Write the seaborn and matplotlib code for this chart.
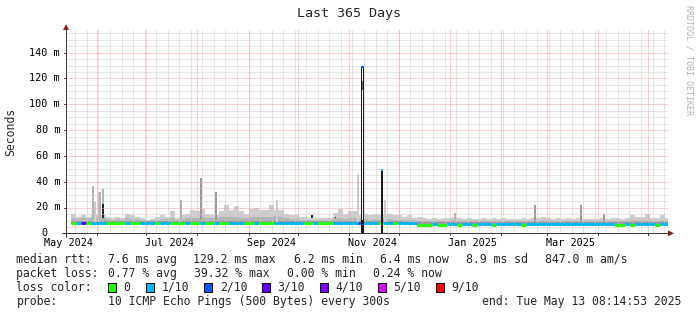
import numpy as np
import pandas as pd
import matplotlib
matplotlib.use("Agg")
import matplotlib.pyplot as plt
import matplotlib.transforms as mtransforms
from matplotlib.patches import Rectangle, Polygon
from matplotlib.lines import Line2D
import seaborn as sns
from datetime import datetime, timedelta

# ------------------------------------------------------------------ data
title = "Last 365 Days"
y_label = "Seconds"
watermark = "RRDTOOL / TOBI OETIKER"
start = datetime(2024, 5, 13, 8, 14, 53)
span_days = 365
bin_days = 3
nan = np.nan

# upper edge of light smoke (ms), one value per 3-day bin
smoke_hi = [nan, 15, 13, 14, 13, 14, 14, 14, 13, 12,
            13, 12, 15, 14, 13, 12, 10, 11, 13, 14,
            13, 17, 12, 14, 15, 18, 17, 19, 15, 14,
            14, 17, 22, 18, 21, 17, 15, 19, 20, 18,
            18, 22, 18, 18, 15, 14, 14, 13, 13, 12,
            12, 12, 12, 12, 16, 19, 15, 17, 17, 14,
            15, 14, 15, 14, 15, 15, 14, 14, 13, 14,
            12, 13, 12, 11, 12, 11, 12, 12, 13, 12,
            11, 12, 11, 11, 12, 11, 12, 11, 12, 11,
            11, 11, 12, 11, 12, 12, 13, 12, 11, 12,
            11, 12, 11, 12, 11, 11, 11, 11, 12, 11,
            12, 12, 11, 12, 14, 13, 13, 15, 12, 12,
            14, 12]
# medium smoke
smoke_mid = [nan, 11.5, 11, 11.5, 11, 11.5, 11.5, 12, 11, 10.5,
             11, 10.5, 11.5, 11, 11, 10.5, 9.8, 10, 10.5, 11,
             11, 12, 10.5, 11, 11.5, 12, 12, 12.5, 11.5, 11.5,
             11.5, 12.5, 13, 12.5, 13, 12, 11.5, 12.5, 13, 12.5,
             12.5, 13, 13.5, 12.5, 11.5, 11, 11, 10.5, 10.5, 10.5,
             10, 10, 10.5, 10.5, 11.5, 12, 11, 11.5, 11.5, 11,
             11, 10.5, 11, 10.5, 11, 11, 10.5, 10.5, 10, 10.5,
             10, 9.8, 9.5, 9.3, 9.6, 9.3, 9.5, 9.6, 10.5, 9.6,
             9.4, 9.6, 9.3, 9.4, 9.6, 9.4, 9.6, 9.4, 9.6, 9.4,
             9.4, 9.4, 9.6, 9.4, 9.8, 9.8, 10, 9.6, 9.4, 9.6,
             9.4, 9.6, 9.4, 9.8, 9.4, 9.4, 9.4, 9.4, 9.8, 9.4,
             9.6, 9.6, 9.4, 9.6, 10.5, 10, 10, 10.5, 9.6, 9.6,
             10, 9.6]
# dark smoke near the median
smoke_dark = [nan, 9.8, 9.6, 9.8, 9.6, 10, 9.8, 10, 9.6, 9.6,
              9.6, 9.6, 9.8, 9.8, 9.6, 9.4, 9.3, 9.4, 9.6, 9.8,
              9.6, 9.8, 9.6, 9.8, 10, 10, 10.2, 10.2, 9.8, 9.8,
              9.8, 10, 10.4, 10.4, 10.6, 10.4, 10, 10.4, 10.6, 10.4,
              10.4, 10.6, 10.6, 10.4, 10, 9.8, 9.8, 9.6, 9.6, 9.4,
              9.4, 9.4, 9.4, 9.4, 9.6, 10, 9.6, 9.8, 9.8, 9.6,
              9.4, 9.4, 9.2, 9.4, 9.4, 9.4, 9.2, 9.2, 9.0, 9.0,
              9.0, 8.8, 8.6, 8.4, 8.8, 8.5, 8.6, 8.8, 9.0, 8.6,
              8.8, 8.8, 8.6, 8.8, 8.8, 8.8, 8.6, 8.8, 8.8, 8.8,
              8.8, 8.8, 8.6, 8.8, 8.8, 8.8, 8.8, 8.8, 8.8, 8.8,
              8.8, 8.8, 8.8, 8.8, 8.8, 8.8, 8.8, 8.8, 8.8, 8.8,
              8.8, 8.6, 8.6, 8.8, 8.6, 8.8, 8.8, 9.0, 8.8, 8.6,
              8.8, 8.8]
# lower edge of the smoke (fastest pings, ms)
smoke_lo = [nan, 7.0, 7.0, 7.0, 7.0, 7.0, 7.0, 7.0, 7.0, 7.0,
            7.0, 7.0, 7.0, 7.0, 7.0, 7.0, 7.0, 7.0, 7.0, 7.0,
            7.0, 7.0, 7.0, 7.0, 7.0, 7.0, 7.0, 7.0, 7.0, 7.0,
            7.0, 7.0, 7.0, 7.0, 7.0, 7.0, 7.0, 7.0, 7.0, 7.0,
            7.0, 7.0, 7.0, 7.0, 7.0, 7.0, 7.0, 7.0, 7.0, 7.0,
            7.0, 7.0, 7.0, 7.0, 7.0, 7.0, 7.0, 7.0, 7.0, 7.0,
            7.0, 7.0, 7.0, 6.8, 7.0, 7.0, 6.8, 7.0, 7.0, 7.0,
            6.8, 5.5, 5.5, 5.5, 6.6, 5.5, 5.5, 6.6, 6.6, 5.6,
            6.6, 6.6, 5.6, 6.6, 6.6, 6.6, 5.6, 6.6, 6.6, 6.6,
            6.6, 6.6, 5.5, 6.6, 6.6, 6.5, 6.5, 6.5, 6.5, 6.5,
            6.5, 6.5, 6.5, 6.5, 6.5, 6.5, 6.5, 6.5, 6.5, 6.5,
            6.5, 5.5, 5.5, 6.5, 5.6, 6.5, 6.5, 6.5, 6.5, 5.6,
            6.5, 6.5]
# median rtt (ms)
median_ms = [nan, 7.8, 8.0, 8.0, 7.8, 8.0, 8.0, 8.0, 7.8, 7.8,
             7.8, 7.8, 8.0, 7.8, 7.8, 8.0, 8.0, 8.0, 7.8, 8.0,
             8.0, 7.8, 7.8, 7.8, 8.0, 7.8, 7.8, 8.0, 7.8, 7.8,
             8.0, 7.8, 7.8, 8.0, 8.0, 8.0, 7.8, 7.8, 8.0, 7.8,
             7.8, 7.8, 8.0, 8.0, 8.0, 8.0, 8.0, 8.0, 7.8, 7.8,
             8.0, 7.8, 7.8, 7.8, 8.0, 8.0, 8.0, 8.0, 8.0, 8.0,
             7.9, 7.9, 7.9, 7.6, 7.9, 7.9, 7.6, 7.9, 7.8, 7.8,
             7.6, 6.3, 6.3, 6.3, 7.5, 6.3, 6.3, 7.5, 7.5, 6.4,
             7.5, 7.5, 6.4, 7.5, 7.5, 7.5, 6.4, 7.5, 7.5, 7.5,
             7.5, 7.5, 6.3, 7.5, 7.5, 7.4, 7.4, 7.4, 7.4, 7.4,
             7.4, 7.4, 7.4, 7.4, 7.4, 7.4, 7.4, 7.4, 7.4, 7.4,
             7.4, 6.3, 6.3, 7.4, 6.4, 7.4, 7.4, 7.4, 7.4, 6.4,
             7.4, 7.4]
# packet-loss class of each bin (index into loss_labels)
loss_idx = [-1, 0, 1, 3, 0, 1, 1, 1, 0, 0,
            0, 0, 1, 0, 0, 1, 1, 1, 0, 1,
            1, 0, 0, 0, 1, 0, 0, 1, 0, 0,
            1, 0, 0, 1, 1, 1, 0, 0, 1, 0,
            0, 0, 1, 1, 1, 1, 1, 1, 0, 0,
            1, 0, 0, 0, 1, 1, 1, 1, 1, 2,
            1, 1, 1, 0, 1, 1, 0, 1, 1, 1,
            1, 0, 0, 0, 1, 0, 0, 1, 1, 0,
            1, 1, 0, 1, 1, 1, 0, 1, 1, 1,
            1, 1, 0, 1, 1, 1, 1, 1, 1, 1,
            1, 1, 1, 1, 1, 1, 1, 1, 1, 1,
            1, 0, 0, 1, 0, 1, 1, 1, 1, 0,
            1, 1]

loss_labels = ["0", "1/10", "2/10", "3/10", "4/10", "5/10", "9/10"]
loss_colors = ["#26ff00", "#00b8ff", "#0059ff", "#5e00ff", "#7e00ff", "#dd00ff", "#ff0000"]

# narrow smoke spikes: day since start, top (ms), shade class
spike_day = [16.4, 17.6, 20.3, 22.4, 22.4, 69.7, 81.6, 91.0, 127.7, 149.2,
             163.6, 177.1, 193.5, 235.9, 284.4, 312.3, 326.3]
spike_ms = [37, 24, 32, 34, 23, 26, 43, 32, 26, 14,
            13, 46, 26, 16, 22, 22, 15]
spike_shade = [1, 0, 1, 1, 3, 1, 2, 2, 0, 3,
               3, 0, 0, 1, 2, 2, 2]

# the two large outliers (day, top ms, loss class)
big_day = [179.8, 191.6]
big_ms = [130, 50]
big_loss = [2, 1]

month_labels = ["May 2024", "Jul 2024", "Sep 2024", "Nov 2024", "Jan 2025", "Mar 2025"]
month_label_ym = [(2024, 5), (2024, 7), (2024, 9), (2024, 11), (2025, 1), (2025, 3)]
y_ticks = [0, 20, 40, 60, 80, 100, 120, 140]
y_tick_labels = ["0", "20 m", "40 m", "60 m", "80 m", "100 m", "120 m", "140 m"]

stats_rtt = ["7.6 ms avg", "129.2 ms max", "6.2 ms min", "6.4 ms now", "8.9 ms sd", "847.0 m am/s"]
stats_loss = ["0.77 % avg", "39.32 % max", "0.00 % min", "0.24 % now"]
probe_text = "10 ICMP Echo Pings (500 Bytes) every 300s"
end_text = "end: Tue May 13 08:14:53 2025"

# ------------------------------------------------------------------ style
W, H = 697, 315
MONO = "DejaVu Sans Mono"
sns.set_style("white")
plt.rcParams["font.family"] = [MONO, "DejaVu Sans"]

shade_colors = ["#cdcdcd", "#b3b3b3", "#9a9a9a", "#262626"]
grid_minor = "#cccccc"
grid_major = "#eda4a4"

fig = plt.figure(figsize=(W / 100, H / 100), dpi=100, facecolor="white")
ax_left, ax_right, ax_top, ax_bot = 66, 668, 30, 233.3
ax = fig.add_axes([ax_left / W, (H - ax_bot) / H, (ax_right - ax_left) / W, (ax_bot - ax_top) / H])
ax.set_facecolor("white")
YMAX = (ax_bot - ax_top) / ((ax_bot - 52.7) / 140.0)

def px(v):
    return v * 0.72  # pixel -> point at 100 dpi

def day_of(dt):
    return (dt - start).total_seconds() / 86400.0

# ------------------------------------------------------------------ smoke (seaborn)
n = len(smoke_hi)
edges = [i * bin_days for i in range(n + 1)]
centers = [e + bin_days / 2.0 for e in edges[:-1]]
df = pd.DataFrame({"day": centers, "hi": smoke_hi, "mid": smoke_mid, "dark": smoke_dark,
                   "lo": smoke_lo, "median": median_ms, "loss": loss_idx})
dv = df.dropna()
for col, c in [("hi", shade_colors[0]), ("mid", shade_colors[1]),
               ("dark", shade_colors[2]), ("lo", "white")]:
    sns.histplot(data=dv, x="day", weights=col, bins=list(edges), ax=ax,
                 color=c, alpha=1, linewidth=0, zorder=1)

# narrow spikes
for dday, top, sh in zip(spike_day, spike_ms, spike_shade):
    lo = 12 if sh == 3 else 8
    ax.bar(dday, top - lo, bottom=lo, width=1.3 if sh != 3 else 0.8,
           color=shade_colors[sh], linewidth=0, zorder=1.6)

# ------------------------------------------------------------------ grid (drawn over the smoke)
gkw = dict(lw=px(1), ls=(0, (1, 1)), zorder=2)
d = datetime(2024, 5, 19)
while day_of(d) < span_days:
    ax.axvline(day_of(d), color=grid_minor, **gkw)
    d += timedelta(days=7)
for yv in np.arange(5, YMAX, 5):
    if yv % 20:
        ax.axhline(yv, color=grid_minor, **gkw)
month_starts = []
y, m = 2024, 6
while True:
    dd = datetime(y, m, 1)
    if day_of(dd) > span_days:
        break
    month_starts.append(day_of(dd))
    m += 1
    if m > 12:
        m, y = 1, y + 1
gkw["zorder"] = 2.1
for ms in month_starts:
    ax.axvline(ms, color=grid_major, **gkw)
for yv in y_ticks[1:]:
    ax.axhline(yv, color=grid_major, **gkw)

# median line coloured by loss
for _, r in dv.iterrows():
    li = int(r["loss"])
    ax.hlines(r["median"], r["day"] - bin_days / 2, r["day"] + bin_days / 2,
              color=loss_colors[li], lw=px(3), zorder=4, capstyle="butt")

# big outliers
bw = [1.8, 1.2]
for i, (dday, top, li) in enumerate(zip(big_day, big_ms, big_loss)):
    ax.bar(dday, top, width=bw[i], color="#1a1a1a", linewidth=0, zorder=5)
    if i == 0:
        ax.bar(dday, top - 12, bottom=10, width=0.55, color="white", linewidth=0, zorder=5.1)
        ax.bar(dday, 7, bottom=111, width=0.55, color="#606060", linewidth=0, zorder=5.2)
    ax.bar(dday, 1.6, bottom=top - 1.6, width=bw[i], color=loss_colors[li], linewidth=0, zorder=5.3)

ax.set_xlim(0, span_days)
ax.set_ylim(0, YMAX)
ax.set_xlabel("")
ax.set_ylabel("")
ax.set_xticks([])
ax.set_yticks([])
for s in ax.spines.values():
    s.set_visible(False)

# ------------------------------------------------------------------ axes lines, arrows, ticks
def fx(x):
    return x / W

def fy(y):
    return 1 - y / H

axis_col = "#3a3a3a"
arrow_col = "#8c1f1f"
fig.add_artist(Line2D([fx(62), fx(669)], [fy(ax_bot), fy(ax_bot)], color=axis_col, lw=px(1)))
fig.add_artist(Line2D([fx(ax_left), fx(ax_left)], [fy(237), fy(28)], color=axis_col, lw=px(1)))
fig.add_artist(Polygon([[fx(668), fy(ax_bot - 3)], [fx(674), fy(ax_bot)], [fx(668), fy(ax_bot + 3)]],
                       closed=True, color=arrow_col, lw=0))
fig.add_artist(Polygon([[fx(ax_left - 3), fy(30)], [fx(ax_left), fy(24)], [fx(ax_left + 3), fy(30)]],
                       closed=True, color=arrow_col, lw=0))

trans_x = mtransforms.blended_transform_factory(ax.transData, fig.transFigure)
trans_y = mtransforms.blended_transform_factory(fig.transFigure, ax.transData)
for ms in month_starts:
    ax.add_line(Line2D([ms, ms], [fy(ax_bot), fy(ax_bot + 2)], transform=trans_x,
                       color=axis_col, lw=px(1), clip_on=False))
for yv in y_ticks[1:]:
    ax.add_line(Line2D([fx(ax_left - 2), fx(ax_left)], [yv, yv], transform=trans_y,
                       color=axis_col, lw=px(1), clip_on=False))

# y tick labels
for yv, lab in zip(y_ticks, y_tick_labels):
    xr = 60 if lab.endswith("m") else 48
    yy = yv if yv else 0.3
    ax.text(fx(xr), yy, lab, transform=trans_y, ha="right", va="center",
            fontsize=7.3, family=MONO, color="black", clip_on=False)
# x tick labels (centred mid-month as rrdtool does)
for lab, (yy, mm) in zip(month_labels, month_label_ym):
    xd = day_of(datetime(yy, mm, 1)) + 14
    ax.text(xd, fy(242.5), lab, transform=trans_x, ha="center", va="center",
            fontsize=7.3, family=MONO, color="black", clip_on=False)

# ------------------------------------------------------------------ titles
fig.text(fx(349), fy(14), title, ha="center", va="center", fontsize=9.6, family=MONO)
fig.text(fx(11), fy(131.5), y_label, ha="center", va="center", rotation=90, fontsize=8.3, family=MONO)
fig.text(fx(689), fy(5), watermark, ha="center", va="top", rotation=-90, fontsize=6, family=MONO,
         color="#b0b0b0")

# ------------------------------------------------------------------ legend block
LF = 8.3
row_y = [259.3, 273.3, 287.3, 301.0]
fig.text(fx(16.5), fy(row_y[0]), "median rtt:", ha="left", va="center", fontsize=LF, family=MONO)
for xp, t in zip([108, 192.7, 293.7, 379.6, 466, 545], stats_rtt):
    fig.text(fx(xp), fy(row_y[0]), t, ha="left", va="center", fontsize=LF, family=MONO)
fig.text(fx(16.5), fy(row_y[1]), "packet loss:", ha="left", va="center", fontsize=LF, family=MONO)
for xp, t in zip([108, 194.5, 287, 373], stats_loss):
    fig.text(fx(xp), fy(row_y[1]), t, ha="left", va="center", fontsize=LF, family=MONO)
fig.text(fx(16.5), fy(row_y[2]), "loss color:", ha="left", va="center", fontsize=LF, family=MONO)
box_x = [108, 145.5, 204, 261.7, 320, 378, 436]
for bx, c, lab in zip(box_x, loss_colors, loss_labels):
    fig.add_artist(Rectangle((fx(bx), fy(row_y[2] + 4.5)), 8 / W, 9 / H, transform=fig.transFigure,
                             facecolor=c, edgecolor="black", lw=px(1)))
    fig.text(fx(bx + 15.7), fy(row_y[2]), lab, ha="left", va="center", fontsize=LF, family=MONO)
fig.text(fx(16.5), fy(row_y[3]), "probe:", ha="left", va="center", fontsize=LF, family=MONO)
fig.text(fx(108), fy(row_y[3]), probe_text, ha="left", va="center", fontsize=LF, family=MONO)
fig.text(fx(681), fy(row_y[3]), end_text, ha="right", va="center", fontsize=LF, family=MONO)

fig.savefig("out.png", dpi=100, facecolor="white")
